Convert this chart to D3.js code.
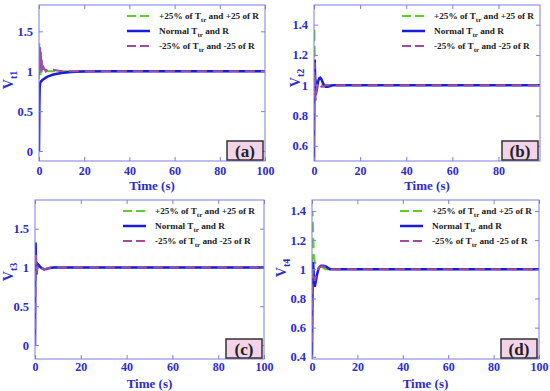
<!DOCTYPE html>
<html>
<head>
<meta charset="utf-8">
<title>Terminal voltages</title>
<script src="https://d3js.org/d3.v7.min.js"></script>
<style>
  body { margin: 0; background: #fff; }
</style>
</head>
<body>
<div id="chart"></div>
<script>
// series names (legend)
const seriesNames = ["+25% of T", "Normal T", "-25% of T"];
const seriesTails = [" and +25 of R", " and R", " and -25 of R"];

// panel (a) V_t1
const tA = [0, 0.15, 0.3, 0.45, 0.6, 0.8, 1.0, 1.2, 1.5, 2, 3, 4, 5, 6, 8, 10, 13, 16, 20, 30, 100];
const aPlus = [0.9, 1.35, 1.0, 1.3, 0.95, 1.2, 0.98, 1.1, 1.0, 1.03, 1.0, 1.0, 1.0, 1.0, 1.0, 1.0, 1.0, 1.0, 1.0, 1.0, 1.0];
const aNormal = [0, 0.55, 0.8, 0.84, 0.86, 0.87, 0.875, 0.88, 0.89, 0.9, 0.92, 0.935, 0.945, 0.955, 0.968, 0.978, 0.988, 0.994, 0.998, 1, 1];
const aMinus = [0.95, 1.25, 1.1, 1.3, 1.0, 1.25, 1.0, 1.15, 0.98, 1.05, 1.0, 1.03, 1.03, 1.02, 1.01, 1.0, 1.0, 1.0, 1.0, 1.0, 1.0];

// panel (b) V_t2
const tB = [0, 0.15, 0.3, 0.5, 0.8, 1.0, 1.3, 1.7, 2.2, 2.7, 3.2, 4, 5, 6, 7, 8, 10, 15, 100];
const bPlus = [0.55, 1.38, 1.2, 1.0, 0.95, 1.0, 1.02, 1.0, 1.0, 1.0, 1.0, 1.0, 1.0, 1.0, 1.0, 1.0, 1.0, 1.0, 1.0];
const bNormal = [0.5, 1.0, 1.17, 1.05, 0.97, 0.96, 0.98, 1.02, 1.045, 1.05, 1.04, 1.01, 0.99, 0.99, 0.995, 1.0, 1.0, 1.0, 1.0];
const bMinus = [0.6, 1.1, 1.15, 0.95, 0.9, 0.95, 1.0, 1.02, 1.01, 1.0, 0.99, 0.99, 1.0, 1.0, 1.0, 1.0, 1.0, 1.0, 1.0];

// panel (c) V_t3
const tC = [0, 0.1, 0.25, 0.4, 0.6, 0.8, 1.0, 1.3, 1.7, 2.2, 3, 4, 5, 6, 8, 10, 100];
const cPlus = [0.2, 1.0, 1.33, 1.15, 0.95, 0.9, 1.0, 1.03, 1.02, 1.0, 0.99, 0.985, 0.99, 1.0, 1.0, 1.0, 1.0];
const cNormal = [0, 0.8, 1.32, 1.1, 0.92, 0.95, 1.05, 1.04, 1.03, 1.01, 0.99, 0.975, 0.98, 0.99, 1.0, 1.0, 1.0];
const cMinus = [0, 0.5, 1.0, 1.2, 1.0, 0.93, 1.02, 1.04, 1.02, 1.0, 0.99, 0.98, 0.985, 0.99, 1.0, 1.0, 1.0];

// panel (d) V_t4
const tD = [0, 0.2, 0.5, 0.8, 1.2, 1.7, 2.3, 3, 4, 5, 6, 7, 8, 10, 100];
const dPlus = [0.6, 1.4, 1.25, 1.1, 1.05, 1.04, 1.03, 1.03, 1.02, 1.01, 1.0, 1.0, 1.0, 1.0, 1.0];
const dNormal = [0.4, 0.8, 1.05, 0.95, 0.88, 0.92, 0.97, 1.01, 1.025, 1.025, 1.02, 1.01, 1.0, 1.0, 1.0];
const dMinus = [0.5, 0.9, 1.0, 0.96, 0.92, 0.95, 0.99, 1.01, 1.02, 1.02, 1.01, 1.0, 1.0, 1.0, 1.0];

// tick labels
const xTicksFull = [0, 20, 40, 60, 80, 100];
const xTicksB = [0, 20, 40, 60, 80];
const yTicksAC = [0, 0.5, 1, 1.5];
const yTicksB = [0.6, 0.8, 1, 1.2, 1.4];
const yTicksD = [0.4, 0.6, 0.8, 1, 1.2, 1.4];

const colors = ["#5fcc2a", "#1a1ae0", "#a24ca0"];
const dashes = ["10,6", null, "10,6"];
const widths = [2, 2.5, 2];
const boxColor = "#7d7de0";
const tickColor = "#2b2bd0";
const serif = '"Liberation Serif", "Times New Roman", Times, serif';

const panels = [
  {tag: "(a)", sub: "t1", t: tA, ys: [aPlus, aNormal, aMinus], xDom: [0, 100], yDom: [-0.125, 1.83],
   xt: xTicksFull, yt: yTicksAC, x0: 39, x1: 265, y0: 5, y1: 161, yl: [13, 80], tl: 29, tp: 5},
  {tag: "(b)", sub: "t2", t: tB, ys: [bPlus, bNormal, bMinus], xDom: [0, 98], yDom: [0.5, 1.53],
   xt: xTicksB, yt: yTicksB, x0: 314, x1: 540, y0: 5, y1: 161, yl: [300, 78], tl: 29, tp: 5},
  {tag: "(c)", sub: "t3", t: tC, ys: [cPlus, cNormal, cMinus], xDom: [0, 100], yDom: [-0.18, 1.87],
   xt: xTicksFull, yt: yTicksAC, x0: 35, x1: 264, y0: 200, y1: 359, yl: [13, 272], tl: 29, tp: 3},
  {tag: "(d)", sub: "t4", t: tD, ys: [dPlus, dNormal, dMinus], xDom: [0, 100], yDom: [0.385, 1.475],
   xt: xTicksFull, yt: yTicksD, x0: 312, x1: 539, y0: 200, y1: 359, yl: [286, 268], tl: 29, tp: 3}
];

const svg = d3.select("#chart").append("svg")
  .attr("width", 550).attr("height", 391);

panels.forEach(p => {
  const x = d3.scaleLinear().domain(p.xDom).range([p.x0, p.x1]);
  const y = d3.scaleLinear().domain(p.yDom).range([p.y1, p.y0]);
  const g = svg.append("g");

  const clipId = "clip" + p.sub;
  g.append("clipPath").attr("id", clipId).append("rect")
    .attr("x", p.x0).attr("y", p.y0).attr("width", p.x1 - p.x0).attr("height", p.y1 - p.y0);

  // lines: green, blue, purple on top
  const line = d3.line().x(d => x(d[0])).y(d => y(d[1]));
  p.ys.forEach((vals, i) => {
    g.append("path")
      .datum(p.t.map((tt, k) => [tt, vals[k]]))
      .attr("clip-path", `url(#${clipId})`)
      .attr("d", line)
      .attr("fill", "none")
      .attr("stroke", colors[i])
      .attr("stroke-width", widths[i])
      .attr("stroke-dasharray", dashes[i]);
  });

  // axes: inward ticks on all four sides
  const mk = (ax, tr, size) => {
    const a = g.append("g").attr("transform", tr).call(ax);
    a.select(".domain").remove();
    a.selectAll(".tick line").attr("stroke", boxColor);
    a.selectAll("text").attr("fill", tickColor)
      .style("font-family", serif).style("font-weight", "bold").style("font-size", size + "px");
    return a;
  };
  mk(d3.axisBottom(x).tickValues(p.xt).tickSize(-4).tickPadding(p.tp).tickFormat(d3.format("d")),
     `translate(0,${p.y1})`, 12);
  mk(d3.axisTop(x).tickValues(p.xt).tickSize(-4).tickFormat(""), `translate(0,${p.y0})`, 12);
  mk(d3.axisLeft(y).tickValues(p.yt).tickSize(-4).tickPadding(6).tickFormat(d => String(d)),
     `translate(${p.x0},0)`, 12.5);
  mk(d3.axisRight(y).tickValues(p.yt).tickSize(-4).tickFormat(""), `translate(${p.x1},0)`, 12);

  g.append("rect")
    .attr("x", p.x0).attr("y", p.y0).attr("width", p.x1 - p.x0).attr("height", p.y1 - p.y0)
    .attr("fill", "none").attr("stroke", boxColor).attr("stroke-width", 1);

  const txt = (sel, size) => sel.style("font-family", serif).style("font-weight", "bold")
    .style("font-size", size + "px");

  // axis labels
  txt(g.append("text"), 13)
    .attr("x", (p.x0 + p.x1) / 2).attr("y", p.y1 + p.tl)
    .attr("text-anchor", "middle").attr("fill", tickColor)
    .text("Time (s)");

  const yl = txt(g.append("text"), 14)
    .attr("transform", `translate(${p.yl[0]},${p.yl[1]}) rotate(-90)`)
    .attr("text-anchor", "middle").attr("fill", tickColor);
  yl.append("tspan").text("V");
  yl.append("tspan").attr("dy", 4).style("font-size", "10px").text(p.sub);

  // legend
  const lx = p.x0 + 88, ly = p.y0 + 11;
  seriesNames.forEach((nm, i) => {
    const yy = ly + i * 15;
    g.append("line")
      .attr("x1", lx).attr("x2", lx + 23).attr("y1", yy).attr("y2", yy)
      .attr("stroke", colors[i]).attr("stroke-width", widths[i])
      .attr("stroke-dasharray", dashes[i] ? "9,4" : null);
    const tx = txt(g.append("text"), 9.2).attr("x", lx + 32).attr("y", yy + 3)
      .attr("fill", "#222");
    tx.append("tspan").text(nm);
    tx.append("tspan").attr("dy", 3).style("font-size", "7px").text("tr");
    tx.append("tspan").attr("dy", -3).text(seriesTails[i]);
  });

  // panel tag box
  const bw = 36, bh = 19;
  const bx = p.x1 - bw - 2, by = p.y1 - bh - 1;
  g.append("rect").attr("x", bx).attr("y", by).attr("width", bw).attr("height", bh)
    .attr("fill", "#f3d3e8").attr("stroke", "#333").attr("stroke-width", 1.5);
  txt(g.append("text"), 17).attr("x", bx + bw / 2).attr("y", by + bh / 2 + 6)
    .attr("text-anchor", "middle").attr("fill", "#222")
    .text(p.tag);
});
</script>
</body>
</html>
